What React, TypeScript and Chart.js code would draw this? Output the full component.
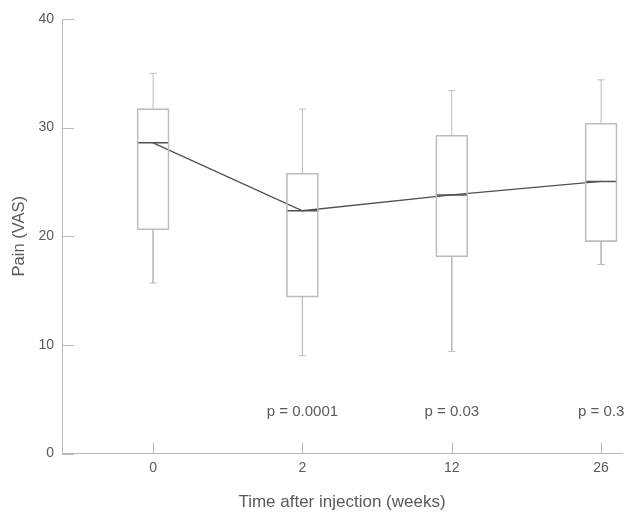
import React, { useEffect, useRef } from "react";
import { Chart, registerables } from "chart.js";

Chart.register(...registerables);

const categories = ["0", "2", "12", "26"];
const whiskerMin = [15.7, 9.0, 9.4, 17.4];
const q1 = [20.6, 14.4, 18.1, 19.5];
const median = [28.6, 22.35, 23.8, 25.05];
const q3 = [31.75, 25.8, 29.3, 30.4];
const whiskerMax = [35.0, 31.7, 33.4, 34.4];
const pValues = ["", "p = 0.0001", "p = 0.03", "p = 0.3"];
const pValueY = 3.8;
const yTicks = [0, 10, 20, 30, 40];

const BOX = "#bcbcbc";
const AXIS = "#b8b8b8";
const TEXT = "#5a5a5a";
const MED = "#505050";
const FONT = "'Liberation Sans', Arial, sans-serif";

const idx = categories.map((_, i) => i);

const segments = (a: number[], b: number[]) => {
  const out: { x: number; y: number | null }[] = [];
  idx.forEach((i) => {
    out.push({ x: i, y: a[i] });
    out.push({ x: i, y: b[i] });
    out.push({ x: i + 0.5, y: null });
  });
  return out;
};

const extrasPlugin = {
  id: "extras",
  afterDatasetsDraw(chart: any) {
    const { ctx, scales, chartArea } = chart;
    const xs = scales.x;
    const ys = scales.y;
    ctx.save();
    ctx.strokeStyle = AXIS;
    ctx.lineWidth = 1;
    // inward y ticks
    yTicks.forEach((v) => {
      const py = Math.round(ys.getPixelForValue(v)) + 0.5;
      ctx.beginPath();
      ctx.moveTo(chartArea.left, py);
      ctx.lineTo(chartArea.left + 12, py);
      ctx.stroke();
    });
    // inward x ticks
    idx.forEach((i) => {
      const px = Math.round(xs.getPixelForValue(i)) + 0.5;
      ctx.beginPath();
      ctx.moveTo(px, chartArea.bottom);
      ctx.lineTo(px, chartArea.bottom - 11);
      ctx.stroke();
    });
    // p-values
    ctx.fillStyle = TEXT;
    ctx.font = "15px " + FONT;
    ctx.textAlign = "center";
    ctx.textBaseline = "middle";
    idx.forEach((i) => {
      if (pValues[i]) ctx.fillText(pValues[i], xs.getPixelForValue(i), ys.getPixelForValue(pValueY));
    });
    ctx.restore();
  },
};

export default function App() {
  const ref = useRef<HTMLCanvasElement>(null);
  useEffect(() => {
    document.body.style.margin = "0";
    const chart = new Chart(ref.current!, {
      type: "bar",
      data: {
        datasets: [
          {
            type: "line",
            data: segments(q3, whiskerMax),
            borderColor: BOX,
            borderWidth: 1,
            pointRadius: 0,
            spanGaps: false,
          } as any,
          {
            type: "line",
            data: segments(q1, whiskerMin),
            borderColor: BOX,
            borderWidth: 1,
            pointRadius: 0,
            spanGaps: false,
          } as any,
          {
            type: "scatter",
            data: idx.flatMap((i) => [
              { x: i, y: whiskerMax[i] },
              { x: i, y: whiskerMin[i] },
            ]),
            pointStyle: "line",
            pointRadius: 3.5,
            borderColor: BOX,
            pointBorderWidth: 1,
          } as any,
          {
            type: "bar",
            data: idx.map((i) => ({ x: i, y: [q1[i], q3[i]] })),
            backgroundColor: "rgba(255,255,255,0)",
            borderColor: BOX,
            borderWidth: 1,
            borderSkipped: false,
            barThickness: 32,
          } as any,
          {
            type: "scatter",
            data: idx.map((i) => ({ x: i, y: median[i] })),
            pointStyle: "line",
            pointRadius: 16,
            borderColor: MED,
            pointBorderWidth: 1.5,
          } as any,
          {
            type: "line",
            data: idx.map((i) => ({ x: i, y: median[i] })),
            borderColor: MED,
            borderWidth: 1.3,
            pointRadius: 0,
            tension: 0,
          } as any,
        ],
      },
      options: {
        animation: false,
        responsive: false,
        maintainAspectRatio: false,
        layout: { padding: { left: 0, right: 18, top: 19, bottom: 0 } },
        plugins: { legend: { display: false }, tooltip: { enabled: false } },
        scales: {
          x: {
            type: "linear",
            min: -0.61,
            max: 3.14,
            offset: false,
            afterFit: (s: any) => {
              s.height = 61.5;
            },
            afterBuildTicks: (s: any) => {
              s.ticks = idx.map((i) => ({ value: i }));
            },
            grid: { display: true, drawOnChartArea: false, drawTicks: false, color: AXIS },
            border: { display: true, color: AXIS, width: 1 },
            ticks: {
              color: TEXT,
              font: { family: FONT, size: 14 },
              padding: 6,
              callback: (v: any) => categories[v as number] ?? "",
              maxRotation: 0,
            },
            title: {
              display: true,
              text: "Time after injection (weeks)",
              color: TEXT,
              font: { family: FONT, size: 17 },
              padding: { top: 0, bottom: 2 },
            },
          },
          y: {
            type: "linear",
            min: 0,
            max: 40,
            afterFit: (s: any) => {
              s.width = 62;
            },
            afterBuildTicks: (s: any) => {
              s.ticks = yTicks.map((v) => ({ value: v }));
            },
            grid: { display: true, drawOnChartArea: false, drawTicks: false, color: AXIS },
            border: { display: true, color: AXIS, width: 1 },
            ticks: {
              color: TEXT,
              font: { family: FONT, size: 14 },
              padding: 8,
            },
            title: {
              display: true,
              text: "Pain (VAS)",
              color: TEXT,
              font: { family: FONT, size: 16.5 },
              padding: { top: 10, bottom: 0 },
            },
          },
        },
      },
      plugins: [extrasPlugin],
    } as any);
    return () => chart.destroy();
  }, []);
  return (
    <div style={{ position: "fixed", left: 0, top: 0, width: 640, height: 515 }}>
      <canvas ref={ref} width={640} height={515} />
    </div>
  );
}
